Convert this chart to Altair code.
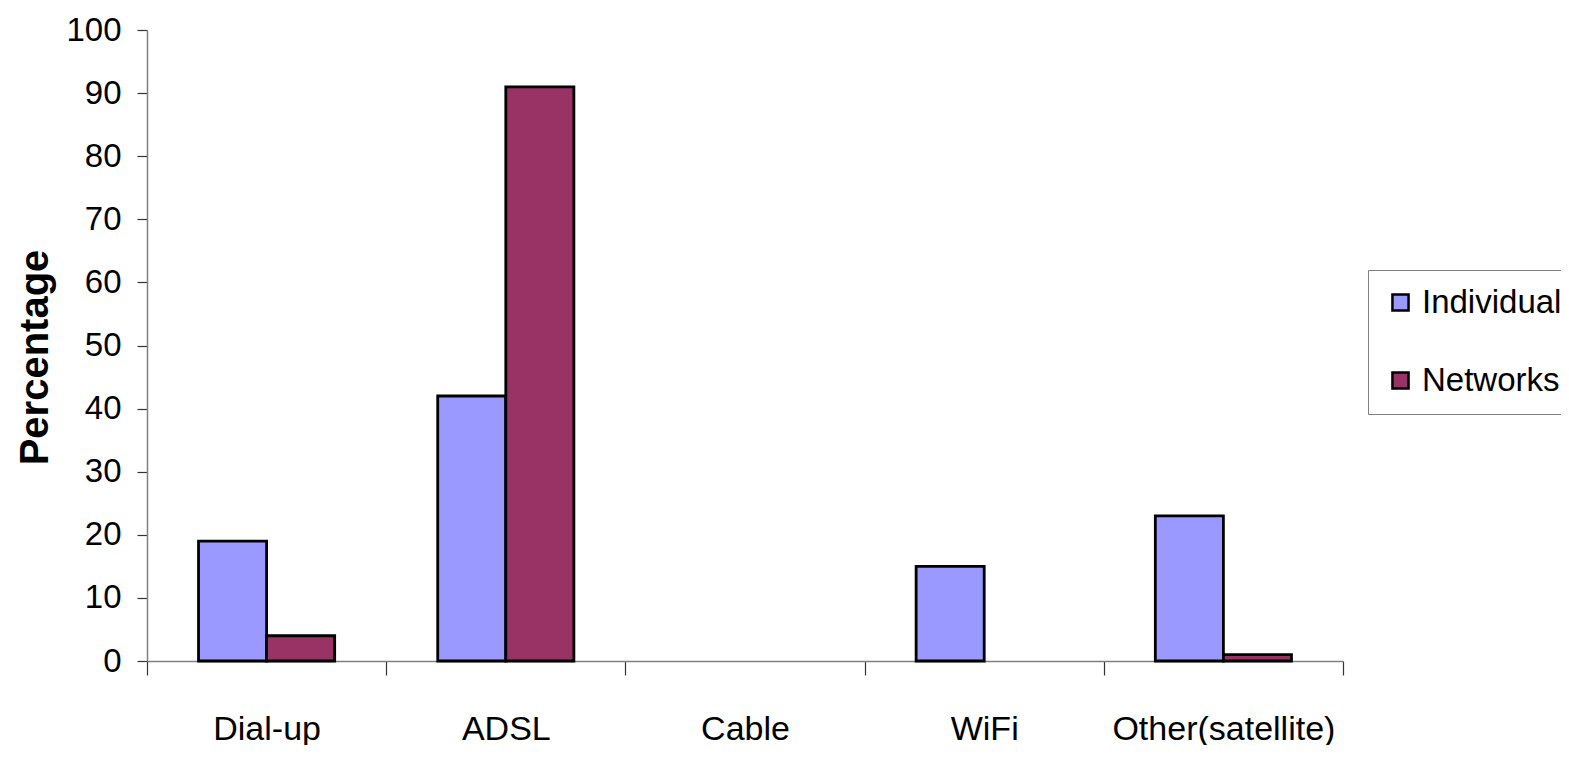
import altair as alt
import pandas as pd

categories = ["Dial-up", "ADSL", "Cable", "WiFi", "Other(satellite)"]
individual = [19, 42, 0, 15, 23]
networks = [4, 91, 0, 0, 1]
series = ["Individual", "Networks"]
colors = ["#9999FF", "#993366"]
y_ticks = [0, 10, 20, 30, 40, 50, 60, 70, 80, 90, 100]

rows = []
for c, a, b in zip(categories, individual, networks):
    rows.append({"category": c, "series": "Individual", "value": a})
    rows.append({"category": c, "series": "Networks", "value": b})
df = pd.DataFrame(rows)

FONT = "Liberation Sans, Arial"

chart = alt.Chart(df).transform_filter(
    alt.datum.value > 0
).mark_bar(stroke="black", strokeWidth=2.8).encode(
    x=alt.X("category:N", sort=categories,
            scale=alt.Scale(domain=categories, paddingInner=0, paddingOuter=0),
            axis=alt.Axis(title=None, labelAngle=0, tickBand="extent",
                          domainColor="#808080", domainWidth=1.5,
                          tickColor="#333333", tickSize=14, tickWidth=1.2,
                          labelFont=FONT, labelFontSize=34, labelColor="black",
                          labelPadding=37, labelLimit=400)),
    xOffset=alt.XOffset("series:N", sort=series,
                        scale=alt.Scale(domain=series, paddingInner=0, paddingOuter=0.757)),
    y=alt.Y("value:Q", scale=alt.Scale(domain=[0, 100], nice=False),
            axis=alt.Axis(values=y_ticks, title="Percentage", grid=False,
                          domainColor="#808080", domainWidth=1.5,
                          tickColor="#333333", tickSize=10, tickWidth=1.2,
                          labelFont=FONT, labelFontSize=33, labelColor="black",
                          labelPadding=16,
                          titleFont=FONT, titleFontSize=40,
                          titleFontWeight="bold", titleColor="black",
                          titleAngle=270, titleX=-112, titleY=327,
                          titleAlign="center", titleBaseline="middle")),
    color=alt.Color("series:N", sort=series,
                    scale=alt.Scale(domain=series, range=colors),
                    legend=alt.Legend(title=None, orient="none",
                                      legendX=1221, legendY=240,
                                      strokeColor="#808080", fillColor="white",
                                      padding=16, rowPadding=44,
                                      symbolType="square", symbolSize=260,
                                      symbolStrokeColor="black",
                                      symbolStrokeWidth=2.5, symbolOpacity=1,
                                      labelFont=FONT, labelFontSize=33,
                                      labelColor="black", labelOffset=5,
                                      labelLimit=300)),
).properties(
    width=1196, height=631,
    autosize=alt.AutoSizeParams(type="none"),
    padding={"left": 139, "top": 22, "right": 218, "bottom": 84},
).configure_view(stroke=None)

chart.save("out.html", embed_options={"renderer": "svg", "actions": False})
